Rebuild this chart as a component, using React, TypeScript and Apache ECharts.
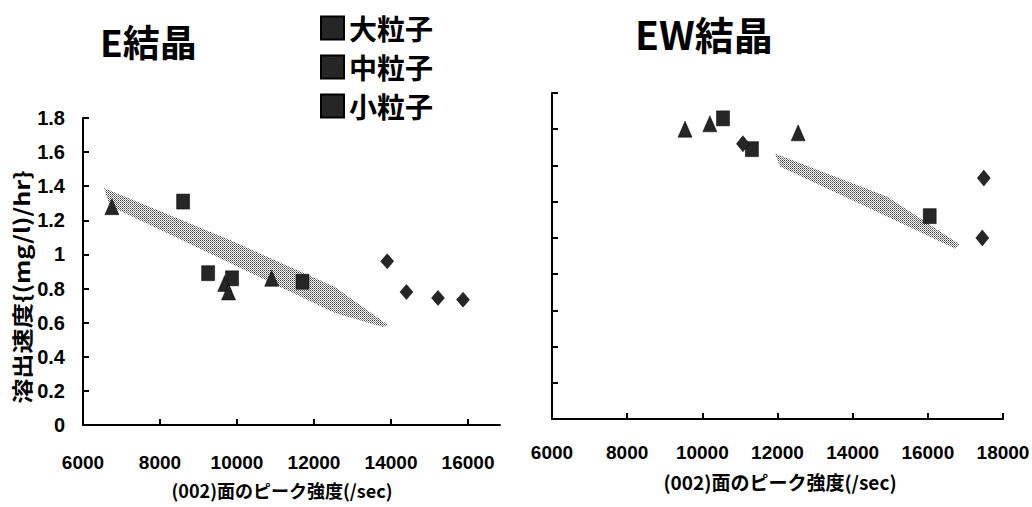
import React, { useEffect, useRef } from 'react';
import * as echarts from 'echarts';

// ---- data ----
const seriesNames = ['大粒子', '中粒子', '小粒子'];
const xTicksLeft = [6000, 8000, 10000, 12000, 14000, 16000];
const xTicksRight = [6000, 8000, 10000, 12000, 14000, 16000, 18000];

// E結晶
const eLarge = [[8600, 1.31], [9250, 0.89], [9870, 0.86], [11700, 0.84]];
const eMedium = [[6750, 1.28], [9680, 0.83], [9780, 0.78], [10900, 0.86]];
const eSmall = [[13900, 0.96], [14400, 0.78], [15220, 0.745], [15870, 0.735]];
const eBand = [[6545, 1.389], [9818, 1.084], [12545, 0.809], [13921, 0.586], [13791, 0.574], [12545, 0.656], [9818, 0.95], [6701, 1.284]];

// EW結晶
const ewLarge = [[10550, 1.66], [11320, 1.49], [16050, 1.12]];
const ewMedium = [[9540, 1.6], [10200, 1.63], [12550, 1.58]];
const ewSmall = [[11080, 1.52], [17490, 1.33], [17450, 1.0]];
const ewBand = [[11932, 1.466], [14913, 1.229], [16853, 0.964], [16720, 0.942], [14913, 1.118], [12065, 1.394]];

const MARK = '#262626';
const NUM_FONT = "'Liberation Sans', Arial, sans-serif";
const CJK_FONT = "'Noto Sans CJK JP', sans-serif";

const bandPattern = {
  image:
    'data:image/svg+xml;charset=utf-8,' +
    encodeURIComponent(
      '<svg xmlns="http://www.w3.org/2000/svg" width="2" height="2"><rect width="2" height="2" fill="#ffffff"/><rect x="0" y="0" width="1" height="1" fill="#444"/><rect x="1" y="1" width="1" height="1" fill="#888"/></svg>'
    ),
  repeat: 'repeat',
  imageWidth: 2,
  imageHeight: 2,
};

function bandSeries(points: number[][], idx: number) {
  return {
    type: 'custom',
    xAxisIndex: idx,
    yAxisIndex: idx,
    z: 1,
    silent: true,
    data: [points[0]],
    renderItem: (_params: any, api: any) => {
      const pts = points.map((p) => api.coord(p));
      return {
        type: 'polygon',
        shape: { points: pts },
        style: { fill: bandPattern as any, stroke: 'none' },
      };
    },
  };
}

function scatter(name: string, data: number[][], idx: number, symbol: string, size: number[]) {
  return {
    type: 'scatter',
    name,
    xAxisIndex: idx,
    yAxisIndex: idx,
    z: 3,
    symbol,
    symbolSize: size,
    itemStyle: { color: MARK, borderColor: '#000', borderWidth: 0.5, opacity: 1 },
    data,
  };
}

const axisLineStyle = { lineStyle: { color: '#000', width: 2 } };
const axisTickStyle = { show: true, inside: true, length: 6, lineStyle: { color: '#000', width: 2 } };
const numLabel = { color: '#000', fontFamily: NUM_FONT, fontWeight: 'bold', fontSize: 19 };
const plain = (v: number) => String(v);

export default function App() {
  const ref = useRef<HTMLDivElement>(null);
  useEffect(() => {
    document.body.style.margin = '0';
    const chart = echarts.init(ref.current!, null, { renderer: 'svg' });
    const option: any = {
      animation: false,
      backgroundColor: '#fff',
      grid: [
        { left: 83, top: 118, width: 417, height: 307, outerBoundsMode: 'none', containLabel: false },
        { left: 552, top: 93, width: 451, height: 326, outerBoundsMode: 'none', containLabel: false },
      ],
      xAxis: [
        {
          type: 'value', gridIndex: 0, min: 6000, max: 16830, interval: 2000,
          splitLine: { show: false },
          axisLine: axisLineStyle,
          axisTick: { ...axisTickStyle, customValues: xTicksLeft },
          axisLabel: { ...numLabel, margin: 28, customValues: xTicksLeft, formatter: plain },
        },
        {
          type: 'value', gridIndex: 1, min: 6000, max: 18000, interval: 2000,
          splitLine: { show: false },
          axisLine: axisLineStyle,
          axisTick: { ...axisTickStyle, customValues: xTicksRight },
          axisLabel: { ...numLabel, margin: 24, customValues: xTicksRight, formatter: plain },
        },
      ],
      yAxis: [
        {
          type: 'value', gridIndex: 0, min: 0, max: 1.8, interval: 0.2,
          splitLine: { show: false },
          axisLine: { show: true, ...axisLineStyle },
          axisTick: axisTickStyle,
          axisLabel: { ...numLabel, fontSize: 20, margin: 18 },
        },
        {
          type: 'value', gridIndex: 1, min: 0, max: 1.8, interval: 0.2,
          splitLine: { show: false },
          axisLine: { show: true, ...axisLineStyle },
          axisTick: axisTickStyle,
          axisLabel: { show: false },
        },
      ],
      legend: {
        orient: 'vertical',
        left: 320,
        top: 14,
        padding: 0,
        itemWidth: 23,
        itemHeight: 23,
        itemGap: 11,
        icon: 'rect',
        selectedMode: false,
        data: seriesNames,
        textStyle: { fontSize: 28, lineHeight: 28, fontWeight: 'bold', fontFamily: CJK_FONT, color: '#000' },
      },
      graphic: [
        { type: 'text', x: 100, y: 41, style: { text: 'E結晶', fontSize: 37, fontWeight: 'bold', fontFamily: CJK_FONT, fill: '#000', align: 'left', verticalAlign: 'middle' } },
        { type: 'text', x: 635, y: 33, style: { text: 'EW結晶', fontSize: 39, fontWeight: 'bold', fontFamily: CJK_FONT, fill: '#000', align: 'left', verticalAlign: 'middle' } },
        { type: 'text', x: 282, y: 490, style: { text: '(002)面のピーク強度(/sec)', fontSize: 18, fontWeight: 'bold', fontFamily: CJK_FONT, fill: '#000', align: 'center', verticalAlign: 'middle' } },
        { type: 'text', x: 780, y: 481, style: { text: '(002)面のピーク強度(/sec)', fontSize: 19, fontWeight: 'bold', fontFamily: CJK_FONT, fill: '#000', align: 'center', verticalAlign: 'middle' } },
        { type: 'text', x: 21, y: 287, rotation: Math.PI / 2, scaleX: 1.2, style: { text: '溶出速度{(mg/l)/hr}', fontSize: 21, fontWeight: 'bold', fontFamily: CJK_FONT, fill: '#000', align: 'center', verticalAlign: 'middle' } },
      ],
      series: [
        bandSeries(eBand, 0),
        bandSeries(ewBand, 1),
        scatter(seriesNames[0], eLarge, 0, 'rect', [13, 15]),
        scatter(seriesNames[1], eMedium, 0, 'triangle', [14, 16]),
        scatter(seriesNames[2], eSmall, 0, 'diamond', [13, 15]),
        scatter(seriesNames[0], ewLarge, 1, 'rect', [13, 15]),
        scatter(seriesNames[1], ewMedium, 1, 'triangle', [14, 16]),
        scatter(seriesNames[2], ewSmall, 1, 'diamond', [13, 16]),
      ],
    };
    chart.setOption(option);
    return () => chart.dispose();
  }, []);
  return <div ref={ref} style={{ width: 1032, height: 507 }} />;
}
